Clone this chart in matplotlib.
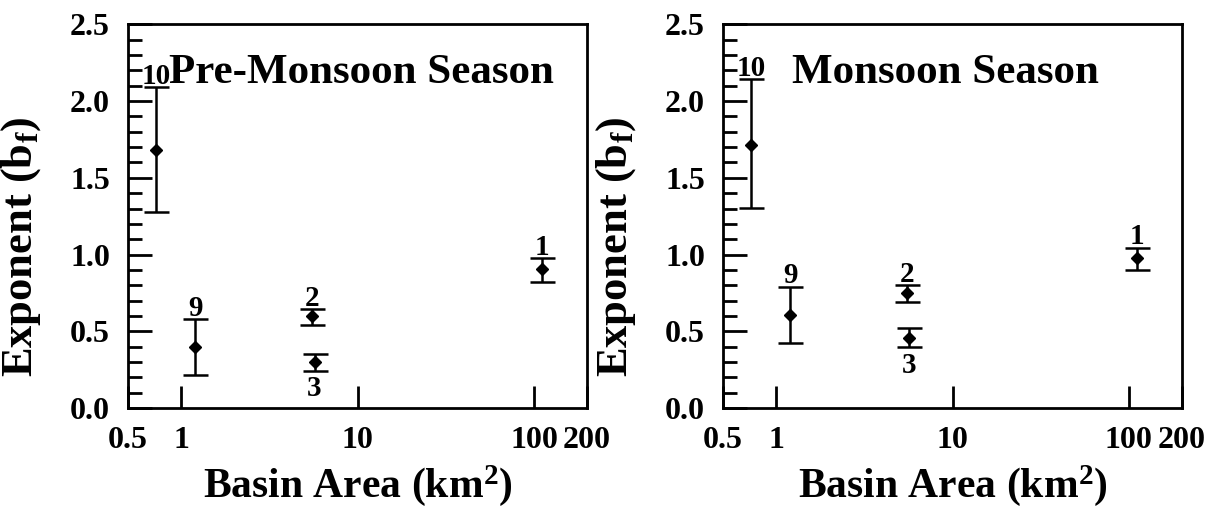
import matplotlib
matplotlib.use("Agg")
import matplotlib.pyplot as plt
from matplotlib.ticker import MultipleLocator, FixedLocator, FixedFormatter, NullLocator

plt.rcParams['font.family'] = ['Liberation Serif', 'DejaVu Serif']
plt.rcParams['font.weight'] = 'bold'
plt.rcParams['axes.labelweight'] = 'bold'
plt.rcParams['mathtext.fontset'] = 'custom'
plt.rcParams['mathtext.rm'] = 'Liberation Serif:bold'
plt.rcParams['mathtext.it'] = 'Liberation Serif:bold'
plt.rcParams['mathtext.bf'] = 'Liberation Serif:bold'

# basin ids and drainage area (km2)
basins = ['1', '2', '3', '9', '10']
area = [111, 5.5, 5.7, 1.2, 0.72]

# exponent b_f with error bar ends, pre-monsoon
pre_b = [0.905, 0.601, 0.302, 0.399, 1.682]
pre_lo = [0.822, 0.543, 0.243, 0.217, 1.278]
pre_hi = [0.977, 0.645, 0.352, 0.579, 2.092]

# monsoon
mon_b = [0.977, 0.753, 0.460, 0.605, 1.714]
mon_lo = [0.898, 0.694, 0.395, 0.423, 1.306]
mon_hi = [1.046, 0.803, 0.519, 0.792, 2.142]

x_ticks = [0.5, 1, 10, 100, 200]
x_ticklabels = ['0.5', '1', '10', '100', '200']


def draw_panel(ax, b, lo, hi, title):
    yerr = [[v - l for v, l in zip(b, lo)], [h - v for v, h in zip(b, hi)]]
    ax.errorbar(area, b, yerr=yerr, fmt='D', color='black', ms=6.5,
                elinewidth=1.8, capsize=9, capthick=1.8)
    for name, x, l, h in zip(basins, area, lo, hi):
        if name == '3':
            ax.annotate(name, (x, l), xytext=(0, -3), textcoords='offset points',
                        ha='center', va='top', fontsize=21)
        else:
            ax.annotate(name, (x, h), xytext=(0, -2), textcoords='offset points',
                        ha='center', va='bottom', fontsize=21)

    ax.set_xscale('log')
    ax.set_xlim(0.5, 200)
    ax.set_ylim(0, 2.5)
    ax.xaxis.set_major_locator(FixedLocator(x_ticks))
    ax.xaxis.set_major_formatter(FixedFormatter(x_ticklabels))
    ax.xaxis.set_minor_locator(NullLocator())
    ax.yaxis.set_major_locator(MultipleLocator(0.5))
    ax.yaxis.set_minor_locator(MultipleLocator(0.1))
    ax.yaxis.set_major_formatter(plt.FormatStrFormatter('%.1f'))
    ax.tick_params(axis='both', which='both', direction='in', width=2,
                   labelsize=23, pad=13, top=False, right=False)
    ax.tick_params(axis='y', which='major', length=17)
    ax.tick_params(axis='y', which='minor', length=10)
    ax.tick_params(axis='x', which='major', length=16)
    for s in ax.spines.values():
        s.set_linewidth(2)

    ax.text(0.09 if title.startswith('Pre') else 0.15, 0.872, title,
            transform=ax.transAxes, ha='left', va='center', fontsize=31)
    ax.set_ylabel(r'Exponent (b$_{\mathrm{f}}$)', fontsize=32)
    ax.yaxis.set_label_coords(-0.185, 0.42)
    ax.set_xlabel(r'Basin Area (km$^{\mathrm{2}}$)', fontsize=30)
    ax.xaxis.set_label_coords(0.5, -0.142)
    ax.xaxis.label.set_va('top')


fig = plt.figure(figsize=(12.08, 5.16), dpi=100)
ax1 = fig.add_axes([0.106, 0.209, 0.380, 0.744])
ax2 = fig.add_axes([0.5985, 0.209, 0.380, 0.744])

draw_panel(ax1, pre_b, pre_lo, pre_hi, 'Pre-Monsoon Season')
draw_panel(ax2, mon_b, mon_lo, mon_hi, 'Monsoon Season')

fig.savefig('out.png', dpi=100)
